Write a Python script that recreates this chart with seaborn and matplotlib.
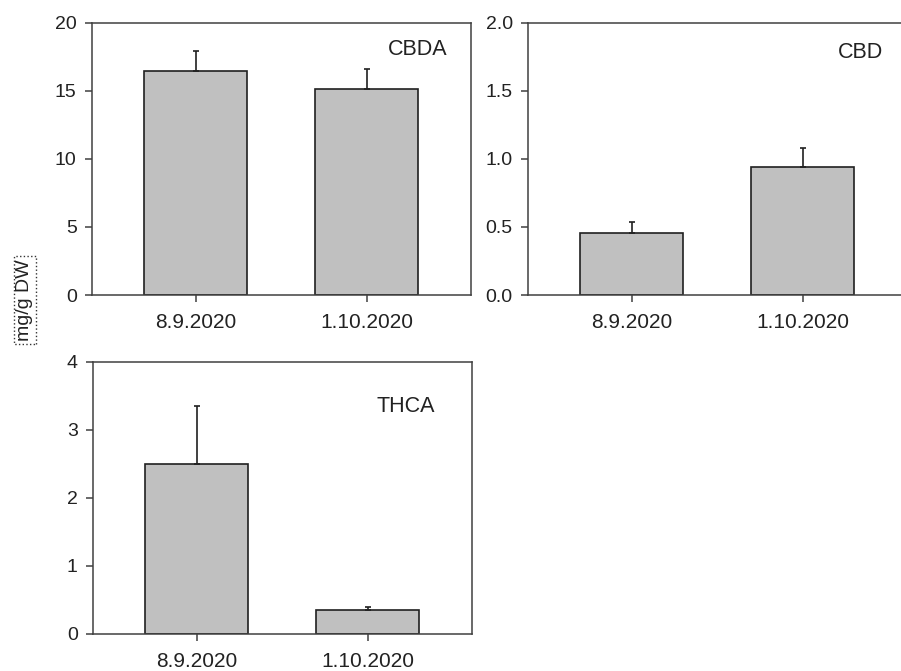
import matplotlib
matplotlib.use("Agg")
import matplotlib.pyplot as plt
import seaborn as sns
import pandas as pd
import numpy as np

dates = ["8.9.2020", "1.10.2020"]
cbda_vals = [16.47, 15.12]
cbda_err = [1.47, 1.45]
cbd_vals = [0.459, 0.939]
cbd_err = [0.077, 0.139]
thca_vals = [2.50, 0.35]
thca_err = [0.86, 0.04]
panel_names = ["CBDA", "CBD", "THCA"]
ylims = [(0, 20), (0, 2.0), (0, 4)]
yticks = [[0, 5, 10, 15, 20], [0.0, 0.5, 1.0, 1.5, 2.0], [0, 1, 2, 3, 4]]
ytick_labels = [["0", "5", "10", "15", "20"], ["0.0", "0.5", "1.0", "1.5", "2.0"], ["0", "1", "2", "3", "4"]]
ylabel = "mg/g DW"

sns.set_theme(style="white")
plt.rcParams['font.family'] = ['Liberation Sans', 'DejaVu Sans']

fig = plt.figure(figsize=(9.01, 6.71), dpi=100)
positions = [
    [92/901, 1-295/671, 378.5/901, 272.3/671],
    [528/901, 1-295/671, 378.5/901, 272.3/671],
    [93/901, 1-634/671, 378.5/901, 272/671],
]
text_pos = [(0.938, 0.903), (0.938, 0.889), (0.904, 0.836)]
vals_all = [cbda_vals, cbd_vals, thca_vals]
errs_all = [cbda_err, cbd_err, thca_err]
spine_col = "#404040"

for i in range(3):
    ax = fig.add_axes(positions[i])
    df = pd.DataFrame({"date": dates, "value": vals_all[i]})
    sns.barplot(data=df, x="date", y="value", ax=ax, color="#c0c0c0",
                edgecolor="#202020", linewidth=1.2, width=0.6, errorbar=None,
                saturation=1)
    xs = ax.get_xticks()
    ax.errorbar(xs, vals_all[i], yerr=[np.zeros(2), errs_all[i]], fmt="none",
                ecolor="#202020", elinewidth=1.2, capsize=2.3, capthick=1.2)
    ax.set_xlim(-0.606, 1.606)
    ax.set_ylim(*ylims[i])
    ax.set_yticks(yticks[i])
    ax.set_yticklabels(ytick_labels[i])
    ax.set_xlabel("")
    ax.set_ylabel("")
    for s in ax.spines.values():
        s.set_color(spine_col)
        s.set_linewidth(1.1)
        s.set_visible(True)
    ax.tick_params(axis="both", direction="out", length=5, width=1.1,
                   color=spine_col, labelcolor="#222222",
                   bottom=True, left=True)
    ax.tick_params(axis="y", labelsize=14, pad=6)
    ax.tick_params(axis="x", labelsize=15, pad=8)
    ax.text(text_pos[i][0], text_pos[i][1], panel_names[i], transform=ax.transAxes,
            ha="right", va="center", fontsize=15.5, color="#222222")

fig.text(0.0277, 1-300/671, ylabel, rotation=90, ha="center", va="center",
         fontsize=14, color="#222222",
         bbox=dict(boxstyle="square,pad=0.15", fc="none", ec="#333333", ls=":", lw=1))

fig.savefig("out.png", dpi=100)
